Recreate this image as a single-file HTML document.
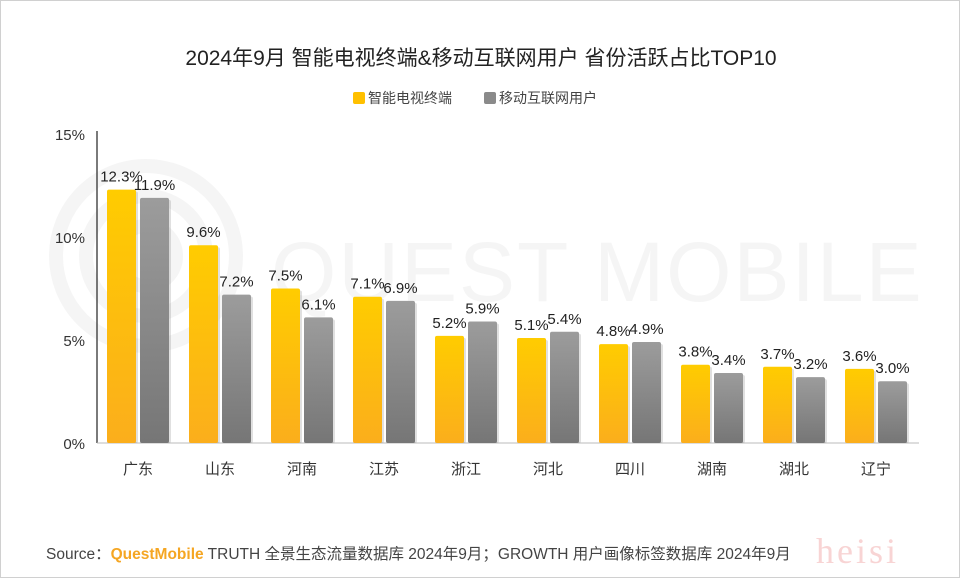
<!DOCTYPE html>
<html><head><meta charset="utf-8"><style>
body{margin:0;background:#fff;}
#wrap{width:958px;height:576px;border:1px solid #d0d0d0;position:relative;overflow:hidden;font-family:"Liberation Sans","Noto Sans CJK SC",sans-serif;}
svg text{font-family:"Liberation Sans","Noto Sans CJK SC",sans-serif;}
</style></head><body>
<div id="wrap">
<svg id="chart" width="958" height="576">
<defs>
<linearGradient id="gy" x1="0" y1="0" x2="0" y2="1"><stop offset="0" stop-color="#FFCC00"/><stop offset="1" stop-color="#FBAE1C"/></linearGradient>
<linearGradient id="gg" x1="0" y1="0" x2="0" y2="1"><stop offset="0" stop-color="#9c9c9c"/><stop offset="1" stop-color="#767676"/></linearGradient>
</defs>
<g fill="none" stroke="#f5f5f5" stroke-width="14">
<circle cx="145" cy="255" r="90"/><circle cx="145" cy="255" r="60"/><circle cx="145" cy="255" r="30"/>
<text x="270" y="300" font-size="84" fill="#f5f5f5" stroke="none" letter-spacing="2">QUEST MOBILE</text>
</g>
<text x="480" y="64" text-anchor="middle" font-size="21" fill="#222">2024年9月 智能电视终端&amp;移动互联网用户 省份活跃占比TOP10</text>
<g font-size="14" fill="#444">
<rect x="352" y="91" width="12" height="12" rx="2" fill="#FFC000"/>
<text x="367" y="102">智能电视终端</text>
<rect x="483" y="91" width="12" height="12" rx="2" fill="#8a8a8a"/>
<text x="498" y="102">移动互联网用户</text>
</g>
<g id="axes"></g>
<g id="bars"></g>
<text x="45" y="558" font-size="15.5" fill="#444">Source：<tspan fill="#F5A623" font-weight="bold">QuestMobile</tspan> TRUTH 全景生态流量数据库 2024年9月；GROWTH 用户画像标签数据库 2024年9月</text>
<text x="815" y="562" font-size="36" fill="#f8d4d4" style="font-family:'Liberation Serif',serif;letter-spacing:3px">heisi</text>
</svg>
</div>
<script>
const categories=["广东","山东","河南","江苏","浙江","河北","四川","湖南","湖北","辽宁"];
const tvValues=[12.3,9.6,7.5,7.1,5.2,5.1,4.8,3.8,3.7,3.6];
const mobileValues=[11.9,7.2,6.1,6.9,5.9,5.4,4.9,3.4,3.2,3.0];
const yTicks=[0,5,10,15];
const NS="http://www.w3.org/2000/svg";
const y0=442,pxPer=103/5;
const y=v=>y0-v*pxPer;
const xc=i=>137+82*i;
function mk(tag,attrs,parent){const e=document.createElementNS(NS,tag);for(const k in attrs)e.setAttribute(k,attrs[k]);parent.appendChild(e);return e;}
const axes=document.getElementById('axes'),bars=document.getElementById('bars');
let ax=mk('line',{x1:96,y1:130,x2:96,y2:y0,stroke:'#222','stroke-width':1.2},axes);


let bx=mk('line',{x1:96,y1:y0,x2:918,y2:y0,stroke:'#bbb','stroke-width':1},axes);


yTicks.forEach(t=>{const e=mk('text',{x:84,y:y(t)+6,'text-anchor':'end','font-size':15,fill:'#333'},axes);e.textContent=t+'%';

});
categories.forEach((c,i)=>{
 const e=mk('text',{x:xc(i),y:473,'text-anchor':'middle','font-size':15,fill:'#333'},axes);e.textContent=c;
 
 
 [[tvValues[i],xc(i)-31,'url(#gy)','tv'],[mobileValues[i],xc(i)+2,'url(#gg)','mobile']].forEach(([v,x,f,s])=>{
  const sh=mk('rect',{x:x+2,y:y(v)+2,width:29,height:y0-y(v)-2,fill:'#000',opacity:0.12,rx:2},bars);
  
  
  const r=mk('rect',{x:x,y:y(v),width:29,height:y0-y(v),fill:f,rx:2},bars);
  
  
  const l=mk('text',{x:x+14.5,y:y(v)-8,'text-anchor':'middle','font-size':15,fill:'#222'},bars);l.textContent=v.toFixed(1)+'%';
  
  
 });
});
</script>
</body></html>
